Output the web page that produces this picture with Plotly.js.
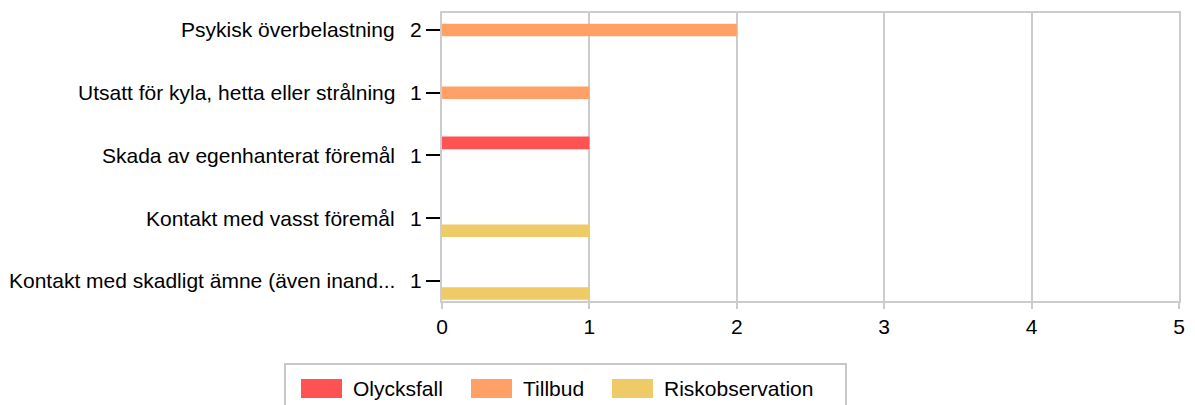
<!DOCTYPE html>
<html>
<head>
<meta charset="utf-8">
<script src="https://cdn.plot.ly/plotly-3.0.1.min.js"></script>
<style>html,body{margin:0;padding:0;background:#fff;}#chart{width:1195px;height:405px;}</style>
</head>
<body>
<div id="chart"></div>
<script>
const categories = [
  "Psykisk överbelastning",
  "Utsatt för kyla, hetta eller strålning",
  "Skada av egenhanterat föremål",
  "Kontakt med vasst föremål",
  "Kontakt med skadligt ämne (även inand..."
];
const seriesNames = ["Olycksfall", "Tillbud", "Riskobservation"];
const olycksfall      = [0, 0, 1, 0, 0];
const tillbud         = [2, 1, 0, 0, 0];
const riskobservation = [0, 0, 0, 1, 1];
const xTicks = [0, 1, 2, 3, 4, 5];

const colors = ["#FF5252", "#FFA066", "#EECB66"];
const seriesValues = [olycksfall, tillbud, riskobservation];
const totals = categories.map((c, i) => seriesValues.reduce((s, arr) => s + arr[i], 0));

const W = 1195, H = 405;
const L = 442, R = 16, T = 13, B = 104;
const plotW = W - L - R, plotH = H - T - B;
const px2x = p => (p - L) / plotW;
const py2y = p => (H - B - p) / plotH;
const FONT = "Liberation Sans, Arial, sans-serif";
const FS = 21;

const traces = seriesNames.map((name, k) => ({
  type: "bar",
  orientation: "h",
  name: name,
  y: categories,
  x: seriesValues[k],
  marker: {color: colors[k], line: {width: 0}},
  showlegend: false,
  hoverinfo: "x+name"
}));

const annotations = categories.map((c, i) => ({
  xref: "paper", yref: "y",
  x: 0, y: c,
  xanchor: "right", yanchor: "middle",
  xshift: -45,
  text: c,
  showarrow: false,
  font: {family: FONT, size: FS, color: "#000"}
}));

const shapes = [{
  type: "rect", xref: "paper", yref: "paper",
  x0: px2x(285), x1: px2x(846), y0: py2y(364), y1: py2y(412),
  line: {color: "#c8c8c8", width: 2}, fillcolor: "rgba(0,0,0,0)"
}];
const swatchX = [301, 471, 612];
const labelX = [351, 521, 662];
seriesNames.forEach((n, k) => {
  shapes.push({
    type: "rect", xref: "paper", yref: "paper",
    x0: px2x(swatchX[k]), x1: px2x(swatchX[k] + 41),
    y0: py2y(379), y1: py2y(398),
    line: {width: 0}, fillcolor: colors[k]
  });
  annotations.push({
    xref: "paper", yref: "paper",
    x: px2x(labelX[k]), y: py2y(388),
    xanchor: "left", yanchor: "middle",
    text: n, showarrow: false,
    font: {family: FONT, size: FS, color: "#000"}
  });
});

const layout = {
  width: W, height: H,
  margin: {l: L, r: R, t: T, b: B, pad: 0},
  paper_bgcolor: "#fff", plot_bgcolor: "#fff",
  barmode: "group",
  bargap: 0.4,
  bargroupgap: 0,
  showlegend: false,
  font: {family: FONT, size: FS, color: "#000"},
  xaxis: {
    range: [0, 5],
    tickvals: xTicks,
    ticktext: xTicks.map(String),
    showgrid: true, gridcolor: "#cccccc", gridwidth: 2,
    zeroline: false,
    showline: true, linecolor: "#cccccc", linewidth: 2, mirror: true,
    ticks: "outside", ticklen: 6, tickwidth: 2, tickcolor: "#cccccc",
    tickfont: {family: FONT, size: FS, color: "#000"},
    fixedrange: true
  },
  yaxis: {
    type: "category",
    categoryorder: "array",
    categoryarray: categories,
    range: [4.32, -0.27],
    tickvals: categories,
    ticktext: totals.map(String),
    showgrid: false,
    zeroline: false,
    showline: true, linecolor: "#cccccc", linewidth: 2, mirror: true,
    ticks: "outside", ticklen: 14, tickwidth: 2, tickcolor: "#000",
    tickfont: {family: FONT, size: FS, color: "#000"},
    fixedrange: true
  },
  annotations: annotations,
  shapes: shapes
};

Plotly.newPlot("chart", traces, layout, {displayModeBar: false, staticPlot: true});
</script>
</body>
</html>
